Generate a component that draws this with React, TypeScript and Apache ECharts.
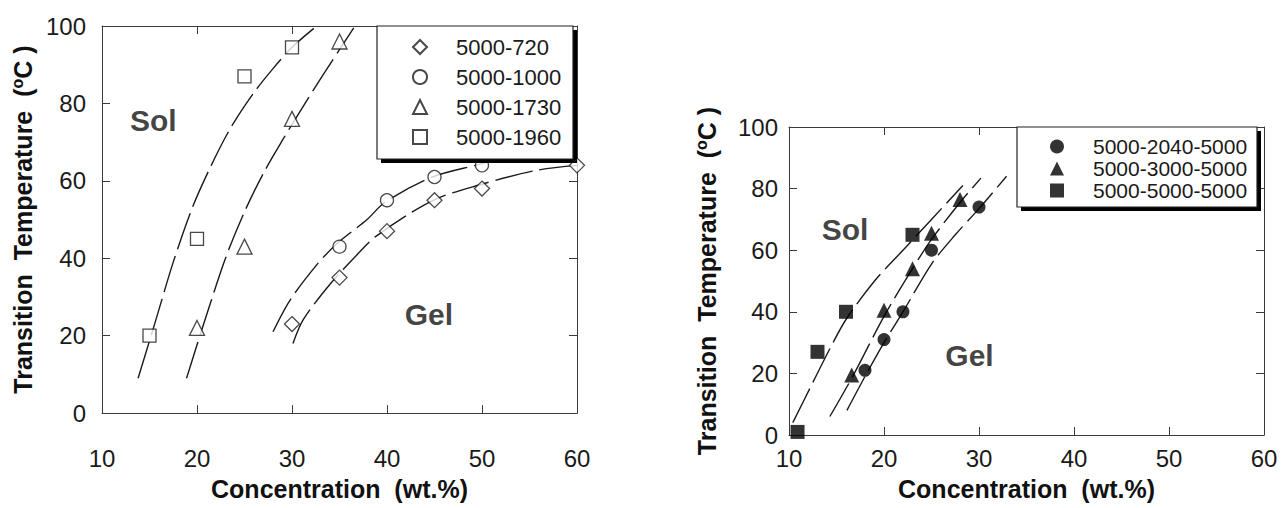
import React, { useEffect, useRef } from "react";
import * as echarts from "echarts";

// ---------- data (left panel) ----------
const c720 = [30, 35, 40, 45, 50, 60];
const t720 = [23, 35, 47, 55, 58, 64];
const c1000 = [35, 40, 45, 50];
const t1000 = [43, 55, 61, 64];
const c1730 = [20, 25, 30, 35];
const t1730 = [22, 43, 76, 96];
const c1960 = [15, 20, 25, 30];
const t1960 = [20, 45, 87, 94.5];

const fit720: number[][] = [[30.1, 18], [31.2, 24.2], [34, 33.3], [36.8, 40.8], [38.9, 45.8], [44.8, 54.9], [49.8, 59], [55.7, 62.7], [60, 64]];
const fit1000: number[][] = [[28, 21], [29.8, 29.2], [32.6, 38.3], [34.7, 43.7], [37.9, 50], [39.8, 54.5], [44.8, 61], [49.8, 64.3], [51.5, 65.5]];
const fit1730: number[][] = [[18.9, 9], [20.7, 23], [23, 40], [25, 52], [27, 62], [29, 70.5], [31, 78.5], [33.3, 87.5], [36.5, 99.5]];
const fit1960: number[][] = [[13.8, 9], [15.6, 23.5], [17.5, 39], [19.5, 53], [21.5, 64], [23.5, 73.5], [25.9, 82.5], [28, 89], [30, 94.5], [32.6, 100]];

// ---------- data (right panel) ----------
const c2040 = [18, 20, 22, 25, 30];
const t2040 = [21, 31, 40, 60, 74];
const c3000 = [16.6, 20, 23, 25, 28];
const t3000 = [19.5, 40.5, 54, 65.5, 76.5];
const c5000 = [10.9, 13, 16, 23];
const t5000 = [1, 27, 40, 65];

const fit2040: number[][] = [[16.1, 8], [18, 19], [20, 30], [22, 40], [25, 55.5], [27.5, 65], [30, 73.5], [32.9, 84]];
const fit3000: number[][] = [[14.3, 6], [16.7, 19], [20, 38.5], [23, 54], [25, 63.5], [28, 75.5], [30.2, 83.4]];
const fit5000: number[][] = [[10.4, 4], [12.5, 17], [14.3, 28], [16, 37.5], [19, 50], [22, 60], [25, 70], [28.3, 81]];

// region labels
const leftRegions = [{ name: "Sol", value: [15.4, 75.5] }, { name: "Gel", value: [44.4, 25.5] }];
const rightRegions = [{ name: "Sol", value: [15.9, 66.8] }, { name: "Gel", value: [29.0, 25.8] }];

const leftNames = ["5000-720", "5000-1000", "5000-1730", "5000-1960"];
const rightNames = ["5000-2040-5000", "5000-3000-5000", "5000-5000-5000"];

const FONT = "'Liberation Sans', Arial, Helvetica, sans-serif";
const INK = "#111";
const AXIS = "#3a3a3a";

const zip = (xs: number[], ys: number[]) => xs.map((x, i) => [x, ys[i]]);

function axisPair(grid: number, labelMargin: number, nameGap: number, isX: boolean) {
  const base: any = {
    type: "value",
    gridIndex: grid,
    min: isX ? 10 : 0,
    max: isX ? 60 : 100,
    interval: isX ? 10 : 20,
    splitLine: { show: false },
    axisLine: { show: true, onZero: false, lineStyle: { color: AXIS, width: 1 } },
    axisTick: { show: true, inside: true, length: 8, lineStyle: { color: AXIS, width: 1 } },
  };
  const main = {
    ...base,
    position: isX ? "bottom" : "left",
    axisLabel: { show: true, fontSize: 24, color: "#1a1a1a", fontFamily: FONT, margin: labelMargin },
    name: isX ? "Concentration  (wt.%)" : "Transition  Temperature  ({sup|o}C )",
    nameLocation: "middle",
    nameGap,
    nameRotate: isX ? 0 : 90,
    nameTextStyle: {
      fontSize: 25,
      fontWeight: "bold",
      color: INK,
      fontFamily: FONT,
      lineHeight: 28,
      rich: {
        sup: { fontSize: 16, fontWeight: "bold", color: INK, fontFamily: FONT, verticalAlign: "top", lineHeight: 28, padding: [0, 0, 8, 0] },
      },
    },
  };
  const opp = { ...base, position: isX ? "top" : "right", axisLabel: { show: false } };
  return [main, opp];
}

function curve(name: string, data: number[][], xi: number, yi: number) {
  return {
    type: "line",
    name,
    xAxisIndex: xi,
    yAxisIndex: yi,
    data,
    smooth: 0.3,
    showSymbol: false,
    symbol: "none",
    silent: true,
    z: 2,
    lineStyle: { color: "#1a1a1a", width: 1.4, type: [38, 7] },
  };
}

function points(name: string, data: number[][], xi: number, yi: number, symbol: string, size: number, hollow: boolean) {
  return {
    type: "scatter",
    name,
    xAxisIndex: xi,
    yAxisIndex: yi,
    data,
    symbol,
    symbolSize: size,
    z: 5,
    itemStyle: hollow
      ? { color: "#ffffff", borderColor: "#1a1a1a", borderWidth: 1.3 }
      : { color: "#000000", borderColor: "#000000", borderWidth: 0 },
  };
}

function regions(data: any[], xi: number, yi: number) {
  return {
    type: "scatter",
    name: "regions" + xi,
    xAxisIndex: xi,
    yAxisIndex: yi,
    data,
    symbolSize: 0,
    silent: true,
    z: 6,
    itemStyle: { color: "transparent" },
    label: { show: true, position: "inside", formatter: "{b}", fontSize: 30, fontWeight: "bold", color: INK, fontFamily: FONT },
  };
}

export default function App() {
  const ref = useRef<HTMLDivElement>(null);
  useEffect(() => {
    if (!ref.current) return;
    const chart = echarts.init(ref.current, undefined, { renderer: "svg" });
    const [lx, lxt] = axisPair(0, 33, 57, true);
    const [ly, lyr] = axisPair(0, 16, 65, false);
    const [rx, rxt] = axisPair(1, 11, 40, true);
    const [ry, ryr] = axisPair(1, 11, 68, false);

    const option: any = {
      animation: false,
      backgroundColor: "#ffffff",
      textStyle: { fontFamily: FONT },
      grid: [
        { left: 102, top: 26, width: 475, height: 401, show: false },
        { left: 789, top: 127, width: 475, height: 316, show: false },
      ],
      xAxis: [lx, lxt, rx, rxt],
      yAxis: [ly, lyr, ry, ryr],
      graphic: [
        { type: "rect", z: 8, shape: { x: 381, y: 30, width: 196, height: 133 }, style: { fill: "#000" } },
        { type: "rect", z: 9, shape: { x: 377, y: 26, width: 196, height: 133 }, style: { fill: "#fff", stroke: "#222", lineWidth: 1.2 } },
        { type: "rect", z: 8, shape: { x: 1021, y: 131, width: 240, height: 80 }, style: { fill: "#000" } },
        { type: "rect", z: 9, shape: { x: 1017, y: 127, width: 240, height: 80 }, style: { fill: "#fff", stroke: "#222", lineWidth: 1.2 } },
      ],
      legend: [
        {
          z: 20,
          data: leftNames,
          orient: "vertical",
          left: 412,
          top: 36,
          padding: 0,
          itemGap: 8,
          itemWidth: 14,
          itemHeight: 14,
          textStyle: { fontSize: 22, color: "#1a1a1a", fontFamily: FONT, lineHeight: 22, padding: [0, 0, 0, 24] },
        },
        {
          z: 20,
          data: rightNames,
          orient: "vertical",
          left: 1050,
          top: 136,
          padding: 0,
          itemGap: 1,
          itemWidth: 14,
          itemHeight: 14,
          textStyle: { fontSize: 21, color: "#1a1a1a", fontFamily: FONT, lineHeight: 21, padding: [0, 0, 0, 24] },
        },
      ],
      series: [
        curve("fit720", fit720, 0, 0),
        curve("fit1000", fit1000, 0, 0),
        curve("fit1730", fit1730, 0, 0),
        curve("fit1960", fit1960, 0, 0),
        points(leftNames[0], zip(c720, t720), 0, 0, "diamond", 15, true),
        points(leftNames[1], zip(c1000, t1000), 0, 0, "circle", 13, true),
        points(leftNames[2], zip(c1730, t1730), 0, 0, "triangle", 15, true),
        points(leftNames[3], zip(c1960, t1960), 0, 0, "rect", 13, true),
        regions(leftRegions, 0, 0),
        curve("fit2040", fit2040, 2, 2),
        curve("fit3000", fit3000, 2, 2),
        curve("fit5000", fit5000, 2, 2),
        points(rightNames[0], zip(c2040, t2040), 2, 2, "circle", 13, false),
        points(rightNames[1], zip(c3000, t3000), 2, 2, "triangle", 15, false),
        points(rightNames[2], zip(c5000, t5000), 2, 2, "rect", 14, false),
        regions(rightRegions, 2, 2),
      ],
    };
    chart.setOption(option);
    return () => chart.dispose();
  }, []);
  return (
    <div
      ref={ref}
      style={{ position: "fixed", left: 0, top: 0, width: 1281, height: 508, background: "#fff" }}
    />
  );
}
